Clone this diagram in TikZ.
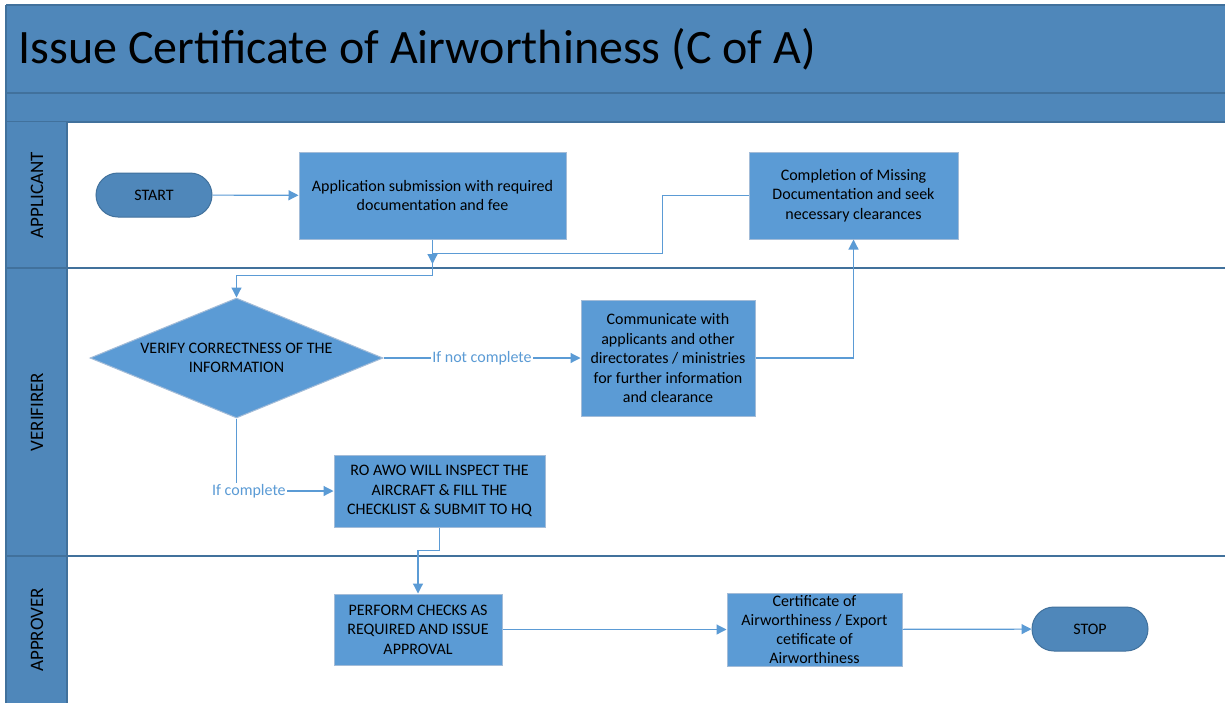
\documentclass[tikz,border=0pt]{standalone}
\usepackage{fontspec}
\setmainfont{Carlito}
\usepackage{tikz}
\usepackage{xcolor}
\usetikzlibrary{shapes.geometric,arrows.meta}
\definecolor{band}{HTML}{4F87BA}
\definecolor{bandline}{HTML}{41719C}
\definecolor{boxfill}{HTML}{5B9BD5}
\definecolor{boxline}{HTML}{A3BCD8}
\definecolor{flowline}{HTML}{5B9BD5}

\begin{document}
\begin{tikzpicture}[x=1pt,y=-1pt,
	trenner/.style={draw=bandline, line width=1.5pt},
	bahntext/.style={rotate=90, font=\fontsize{19}{22}\selectfont},
	prozess/.style={draw=boxline, fill=boxfill, line width=1pt, align=center, inner xsep=2pt, inner ysep=0pt, font=\fontsize{16}{19.5}\selectfont},
	startstop/.style={draw=bandline, fill=band, line width=1pt, rounded corners=22pt, minimum width=116pt, minimum height=44pt, font=\fontsize{16}{19}\selectfont},
	entscheid/.style={diamond, aspect=2.44, draw=boxline, fill=boxfill, line width=1pt, inner sep=0pt, minimum width=293pt, minimum height=120pt, align=center, font=\fontsize{16}{19.5}\selectfont},
	fluss/.style={draw=flowline, line width=1.2pt, -{Triangle[length=10pt,width=10pt]}},
	beschriftung/.style={fill=white, text=flowline, inner sep=1pt, font=\fontsize{16}{19}\selectfont}]
	\useasboundingbox (0,0) rectangle (1225,702);
	\clip (0,0) rectangle (1225,702);
	\fill[white] (0,0) rectangle (1225,702);
	% titelbalken
	\fill[band] (6,5) rectangle (1235,122);
	\draw[trenner] (6,5) -- (1235,5);
	\draw[trenner] (6,93) -- (1235,93);
	\draw[trenner] (6,122) -- (1235,122);
	\node[anchor=base west, font=\fontsize{48}{50}\selectfont] (titel) at (15,63) {Issue Certificate of Airworthiness (C of A)};
	% bahnen, linke spalte
	\fill[band] (6,122) rectangle (67,710);
	\draw[trenner] (6,5) -- (6,710);
	\draw[trenner] (67,122) -- (67,710);
	\draw[trenner] (6,268) -- (1235,268);
	\draw[trenner] (6,556) -- (1235,556);
	\node[bahntext] (applicant) at (37,195) {APPLICANT};
	\node[bahntext] (verifirer) at (37,412) {VERIFIRER};
	\node[bahntext] (approver) at (37,630) {APPROVER};
	% applicant
	\node[startstop] (start) at (154,195) {START};
	\node[prozess, minimum width=267pt, minimum height=87pt] (antrag) at (432.5,195.5) {Application submission with required\\documentation and fee};
	\node[prozess, minimum width=209pt, minimum height=87pt] (nachreichen) at (853.5,195.5) {Completion of Missing\\Documentation and seek\\necessary clearances};
	% verifirer
	\node[entscheid] (pruefen) at (236.5,358) {VERIFY CORRECTNESS OF THE\\INFORMATION};
	\node[prozess, minimum width=174pt, minimum height=116pt] (klaeren) at (668,358) {Communicate with\\applicants and other\\directorates / ministries\\for further information\\and clearance};
	\node[prozess, minimum width=211pt, minimum height=72pt] (inspektion) at (439.5,491) {RO AWO WILL INSPECT THE\\AIRCRAFT \& FILL THE\\CHECKLIST \& SUBMIT TO HQ};
	% approver
	\node[prozess, minimum width=168pt, minimum height=71pt] (freigabe) at (418,629.5) {PERFORM CHECKS AS\\REQUIRED AND ISSUE\\APPROVAL};
	\node[prozess, minimum width=175pt, minimum height=73pt, font=\fontsize{16}{19}\selectfont] (zeugnis) at (814.5,629.5) {Certificate of\\Airworthiness / Export\\cetificate of\\Airworthiness};
	\node[startstop] (stop) at (1090,629) {STOP};
	% verbindungen
	\coordinate (knoten) at (432.5,264);
	\draw[fluss] (start) -- (antrag);
	\draw[fluss] (antrag.south) -- ++(0,36) -| (pruefen.north);
	\draw[fluss] (nachreichen.west) -- ++(-86,0) -- ++(0,58) -| (knoten);
	\draw[fluss] (pruefen.east) -- node[beschriftung] {If not complete} (klaeren.west);
	\draw[fluss] (klaeren.east) -| (nachreichen.south);
	\draw[fluss] (pruefen.south) |- node[beschriftung, pos=0.564] {If complete} (inspektion.west);
	\draw[fluss] (inspektion.south) -- ++(0,23) -| (freigabe.north);
	\draw[fluss] (freigabe) -- (zeugnis);
	\draw[fluss] (zeugnis) -- (stop);
\end{tikzpicture}
\end{document}
